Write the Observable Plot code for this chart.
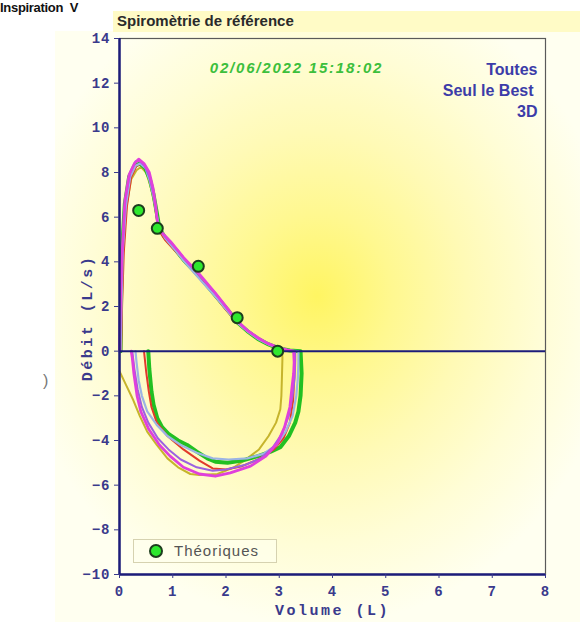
<!DOCTYPE html>
<html><head><meta charset="utf-8">
<script src="https://cdn.jsdelivr.net/npm/d3@7"></script>
<script src="https://cdn.jsdelivr.net/npm/@observablehq/plot@0.6"></script>
<style>
html,body{margin:0;padding:0;background:#fff;width:580px;height:622px;overflow:hidden;position:relative;font-family:"Liberation Sans",Arial,sans-serif;}
#bg{position:absolute;left:55px;top:31px;width:525px;height:591px;
 background:radial-gradient(ellipse 300px 330px at 262px 265px,#fff562 0%,#fff890 25%,#fffab6 50%,#fffdd6 75%,#fffff0 100%);}
#insp{position:absolute;left:0;top:1px;font-weight:bold;font-size:13px;line-height:14px;color:#111;white-space:nowrap;letter-spacing:-0.3px;}
#band{position:absolute;left:113px;top:11px;width:467px;height:21px;background:#fffbc6;}
#title{position:absolute;left:117px;top:12px;font-weight:bold;font-size:15px;color:#2a2a2a;white-space:nowrap;}
#paren{position:absolute;left:43px;top:372px;font-size:16px;color:#777;}
#chart{position:absolute;left:0;top:0;}
#ylab{position:absolute;left:14px;top:309px;width:150px;height:18px;line-height:18px;text-align:center;transform:rotate(-90deg);
 font-family:"Liberation Mono",monospace;font-weight:bold;font-size:15px;letter-spacing:2.5px;color:#3a3a8c;white-space:nowrap;}
#legend{position:absolute;left:133px;top:539px;width:142px;height:22px;border:1px solid #d6d2b0;background:rgba(255,255,236,0.7);}
#legend .dot{position:absolute;left:15px;top:4px;width:10px;height:10px;border-radius:50%;background:#2ee82e;border:2px solid #1d3d1d;}
#legend .lab{position:absolute;left:40px;top:2px;font-size:15px;letter-spacing:1px;color:#555;}
</style></head>
<body>
<div id="bg"></div>
<div id="insp">Inspiration&nbsp; V</div>
<div id="band"></div>
<div id="title">Spiromètrie de référence</div>
<div id="paren">)</div>
<div id="chart"></div>
<div id="ylab"></div>
<div id="legend"><div class="dot"></div><div class="lab">Théoriques</div></div>
<script>
// ---- data (Volume L, Débit L/s) ----
const xTicks = [0,1,2,3,4,5,6,7,8];
const yTicks = [-10,-8,-6,-4,-2,0,2,4,6,8,10,12,14];

const seriesNames = ["olive","green","red","lightblue","violet","magenta"];
const seriesColors = ["#c6b42c","#22c022","#e23a2a","#9cb4e4","#9a62e0","#e040dc"];
const seriesWidths = [2,4,2,2.2,2,2.8];

const oliveV = [0.02,0.04,0.07,0.13,0.22,0.32,0.40,0.50,0.58,0.65,0.70,0.75,0.88,1.05,1.25,1.50,1.80,2.05,2.25,2.45,2.65,2.85,2.95,3.05,
  3.06,3.05,3.04,3.02,2.94,2.80,2.62,2.40,2.15,1.84,1.50,1.33,1.10,0.90,0.70,0.52,0.38,0.26,0.12,0.00];
const oliveF = [0.0,2.4,4.5,6.5,7.7,8.1,8.25,8.0,7.4,6.7,5.9,5.4,5.0,4.5,3.9,3.3,2.5,1.75,1.2,0.8,0.46,0.2,0.08,0.0,
  -0.3,-1.2,-2.0,-2.6,-3.2,-3.8,-4.4,-4.8,-5.2,-5.5,-5.55,-5.5,-5.2,-4.8,-4.2,-3.6,-2.9,-2.2,-1.5,-0.9];

const greenV = [0.02,0.03,0.05,0.10,0.18,0.28,0.38,0.48,0.57,0.64,0.70,0.75,0.85,1.00,1.20,1.48,1.80,2.03,2.21,2.40,2.60,2.80,3.00,3.20,3.40,
  3.42,3.40,3.36,3.30,3.18,3.02,2.84,2.60,2.30,2.03,1.80,1.65,1.45,1.27,1.10,0.92,0.80,0.71,0.64,0.60,0.56,0.54];
const greenF = [0.0,2.5,4.6,6.6,7.8,8.3,8.4,8.2,7.7,7.0,6.2,5.5,5.1,4.7,4.1,3.4,2.5,1.85,1.3,0.9,0.55,0.3,0.12,0.03,0.0,
  -1.0,-2.0,-2.7,-3.2,-3.8,-4.3,-4.5,-4.7,-4.9,-5.0,-4.95,-4.8,-4.5,-4.2,-4.0,-3.7,-3.4,-3.0,-2.4,-1.8,-0.8,0.0];

const redV = [0.03,0.05,0.08,0.14,0.22,0.32,0.40,0.50,0.58,0.65,0.70,0.74,0.85,1.00,1.20,1.45,1.75,2.00,2.20,2.40,2.60,2.80,3.00,3.15,3.28,
  3.29,3.28,3.26,3.20,3.08,2.90,2.60,2.30,2.00,1.75,1.50,1.20,0.90,0.70,0.60,0.55,0.50,0.46];
const redF = [0.0,2.2,4.4,6.5,7.8,8.3,8.4,8.2,7.6,6.8,6.0,5.4,5.0,4.6,4.1,3.4,2.6,1.85,1.3,0.9,0.56,0.32,0.13,0.04,0.0,
  -0.5,-1.2,-2.2,-3.2,-3.9,-4.4,-4.85,-5.15,-5.3,-5.25,-4.9,-4.4,-3.8,-3.2,-2.5,-1.8,-0.9,0.0];

const lightblueV = [0.02,0.04,0.06,0.12,0.20,0.30,0.39,0.49,0.57,0.64,0.70,0.75,0.86,1.02,1.22,1.48,1.80,2.03,2.22,2.42,2.62,2.82,3.02,3.20,3.36,
  3.36,3.35,3.32,3.25,3.12,2.95,2.70,2.40,2.05,1.75,1.45,1.15,0.90,0.70,0.52,0.42,0.36,0.32,0.30];
const lightblueF = [0.0,2.3,4.4,6.5,7.8,8.3,8.4,8.2,7.6,6.9,6.1,5.5,5.05,4.6,4.0,3.3,2.45,1.8,1.25,0.85,0.52,0.28,0.1,0.03,0.0,
  -0.5,-1.2,-2.0,-2.9,-3.6,-4.2,-4.6,-4.8,-4.85,-4.8,-4.55,-4.2,-3.8,-3.3,-2.7,-2.0,-1.3,-0.5,0.0];

const violetV = [0.01,0.02,0.05,0.11,0.20,0.30,0.38,0.47,0.56,0.64,0.70,0.76,0.90,1.10,1.30,1.50,1.80,2.05,2.25,2.45,2.65,2.85,3.05,3.20,3.30,
  3.30,3.29,3.25,3.18,3.05,2.88,2.65,2.35,2.00,1.75,1.45,1.15,0.92,0.72,0.54,0.42,0.34,0.28,0.24];
const violetF = [0.0,2.0,4.3,6.8,8.0,8.5,8.5,8.3,7.8,7.0,6.0,5.4,5.0,4.5,3.9,3.4,2.6,1.8,1.25,0.85,0.52,0.28,0.1,0.03,0.0,
  -0.4,-1.2,-2.0,-2.9,-3.7,-4.3,-4.8,-5.1,-5.3,-5.35,-5.2,-4.85,-4.4,-3.9,-3.2,-2.5,-1.7,-0.8,0.0];

const magentaV = [0.00,0.01,0.04,0.10,0.18,0.28,0.36,0.46,0.56,0.63,0.68,0.72,0.80,0.96,1.20,1.48,1.80,2.03,2.21,2.40,2.60,2.78,3.00,3.15,3.27,
  3.28,3.27,3.24,3.20,3.10,2.97,2.75,2.46,2.08,1.80,1.50,1.20,0.95,0.75,0.55,0.40,0.33,0.27,0.24,0.22];
const magentaF = [0.0,1.5,4.0,6.7,7.9,8.4,8.6,8.4,8.0,7.3,6.5,5.6,5.3,4.9,4.2,3.5,2.6,1.9,1.35,0.93,0.6,0.35,0.15,0.06,0.0,
  -0.5,-1.0,-1.6,-2.5,-3.4,-4.1,-4.7,-5.15,-5.45,-5.6,-5.5,-5.2,-4.7,-4.2,-3.5,-2.7,-2.0,-1.0,-0.3,0.0];

const theoV = [0.36,0.71,1.48,2.21,2.97];
const theoF = [6.3,5.5,3.8,1.5,0.0];

const dateText = "02/06/2022 15:18:02";
const cornerTexts = ["Toutes","Seul le Best","3D"];
const xLabel = "Volume (L)";
const yLabel = "Débit (L/s)";

// ---- build ----
const seriesData = {
  olive:[oliveV,oliveF], green:[greenV,greenF], red:[redV,redF],
  lightblue:[lightblueV,lightblueF], violet:[violetV,violetF], magenta:[magentaV,magentaF]
};
const lineMarks = seriesNames.map((name,i) => {
  const [V,F] = seriesData[name];
  const rows = V.map((v,j) => ({v, f:F[j]}));
  return Plot.line(rows, {x:"v", y:"f", stroke:seriesColors[i], strokeWidth:seriesWidths[i], strokeLinejoin:"round", strokeLinecap:"round", curve:"linear"});
});
const theo = theoV.map((v,i) => ({v, f:theoF[i]}));
const navy = "#1c1c7a";
const lab = "#3a3a8c";
const sans = "Liberation Sans, Arial, sans-serif";
const mono = "Liberation Mono, monospace";

const chart = Plot.plot({
  width:580, height:622,
  marginLeft:119, marginRight:35, marginTop:38, marginBottom:48,
  style:{background:"transparent", color:lab, overflow:"visible"},
  x:{domain:[0,8], axis:null},
  y:{domain:[-10,14], axis:null},
  marks:[
    Plot.frame({stroke:"#5a5a5a", strokeWidth:1.2}),
    ...lineMarks,
    Plot.ruleY([0], {stroke:navy, strokeWidth:2}),
    Plot.ruleX([0], {stroke:navy, strokeWidth:2.5}),
    Plot.ruleY([-10], {stroke:navy, strokeWidth:2.5}),
    Plot.axisY({ticks:yTicks, tickSize:5, tickPadding:4, fontSize:14, fontWeight:"bold", fontFamily:mono, label:null, color:lab}),
    Plot.axisX({ticks:xTicks, tickSize:4, tickPadding:8, fontSize:14, fontWeight:"bold", fontFamily:mono, label:null, color:lab}),
    Plot.dot(theo, {x:"v", y:"f", r:5.5, fill:"#2ee82e", stroke:"#1d3d1d", strokeWidth:2}),
    Plot.text([dateText], {frameAnchor:"top", dx:-36, dy:24, fill:"#3cbf3c", fontSize:15, fontWeight:"bold", fontStyle:"italic", fontFamily:sans}),
    Plot.text([cornerTexts[0]], {frameAnchor:"top-right", dx:-8, dy:25, textAnchor:"end", fill:"#3c3ca8", fontSize:16, fontWeight:"bold", fontFamily:sans}),
    Plot.text([cornerTexts[1]], {frameAnchor:"top-right", dx:-12, dy:46, textAnchor:"end", fill:"#3c3ca8", fontSize:16, fontWeight:"bold", fontFamily:sans}),
    Plot.text([cornerTexts[2]], {frameAnchor:"top-right", dx:-8, dy:67, textAnchor:"end", fill:"#3c3ca8", fontSize:16, fontWeight:"bold", fontFamily:sans}),
    Plot.text([xLabel], {frameAnchor:"bottom", dy:40, fill:lab, fontSize:15, fontWeight:"bold", fontFamily:mono})
  ]
});
document.getElementById("chart").append(chart);
document.getElementById("ylab").textContent = yLabel;
// widen texts like the reference's stretched rendering
d3.select(chart).selectAll("text").each(function() {
  const t = this.textContent;
  if (t === dateText) this.style.letterSpacing = "1.8px";
  else if (t === xLabel) this.style.letterSpacing = "2.5px";
  else if (/^[−\-]?\d+$/.test(t)) this.style.letterSpacing = "1px";
});
</script>
</body></html>
